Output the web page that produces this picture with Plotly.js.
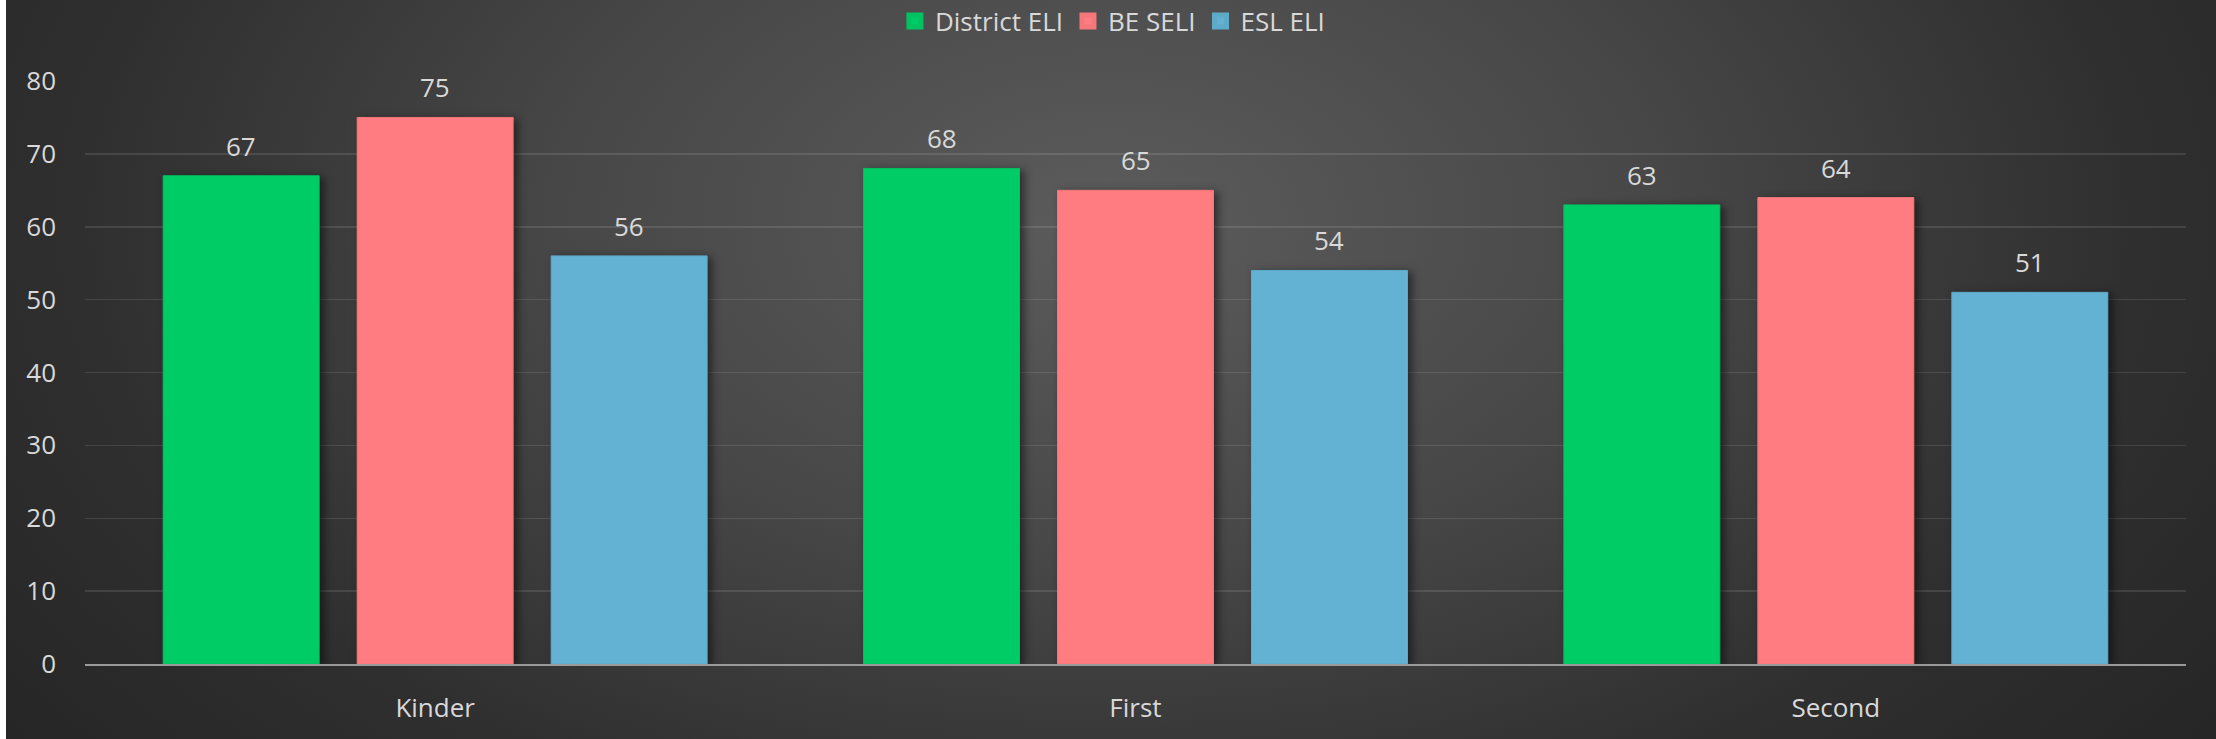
<!DOCTYPE html>
<html>
<head>
<meta charset="utf-8">
<script src="https://cdn.plot.ly/plotly-3.0.1.min.js"></script>
<style>
  html, body { margin: 0; padding: 0; background: #262626; }
  #wrap { position: relative; width: 2216px; height: 739px;
    background: radial-gradient(ellipse 62% 115% at 50% 30%, #5c5c5c 0%, #474747 40%, #2f2f2f 75%, #262626 100%); }
  #chart { position: absolute; left: 0; top: 0; width: 2216px; height: 739px; }
  #edge { position: absolute; left: 0; top: 0; width: 6px; height: 739px; background: #ffffff; z-index: 5; }
  #chart .bars path { filter: drop-shadow(4px 2px 4px rgba(0,0,0,0.5)); }
  #chart .legend .legendpoints path { stroke-width: 5px !important; stroke-linejoin: miter !important; }
</style>
</head>
<body>
<div id="wrap"><div id="chart"></div><div id="edge"></div></div>
<script>
const categories = ["Kinder", "First", "Second"];
const seriesNames = ["District ELI", "BE SELI", "ESL ELI"];
const districtELI = [67, 68, 63];
const beSELI = [75, 65, 64];
const eslELI = [56, 54, 51];
const yTicks = [0, 10, 20, 30, 40, 50, 60, 70, 80];

const seriesValues = [districtELI, beSELI, eslELI];
const colors = ["#00cc66", "#ff7c80", "#63b2d3"];
const lineColors = ["#00c261", "#f5777b", "#5eaac9"];

const W = 2216, H = 739;
const margin = { l: 85, r: 30, t: 81, b: 75, pad: 0 };
const bargap = 0.169;
const bargroupgap = 0.196;
const textColor = "#d9d9d9";
const fontFamily = "'Open Sans', 'Noto Sans', sans-serif";

const traces = seriesNames.map((name, i) => ({
  type: "bar",
  name: name,
  x: categories,
  y: seriesValues[i],
  marker: { color: colors[i], line: { color: lineColors[i], width: 1 } },
  hoverinfo: "none"
}));

// data labels placed through the axis scales (category + value), shifted to each bar slot
const plotW = W - margin.l - margin.r;
const catW = plotW / categories.length;
const slotW = catW * (1 - bargap) / seriesNames.length;
const annotations = [];
seriesNames.forEach((name, i) => {
  categories.forEach((c, j) => {
    annotations.push({
      x: c, y: seriesValues[i][j], xref: "x", yref: "y",
      text: String(seriesValues[i][j]),
      showarrow: false,
      xanchor: "center", yanchor: "middle",
      xshift: (i - (seriesNames.length - 1) / 2) * slotW,
      yshift: 30,
      font: { family: fontFamily, size: 26, color: textColor }
    });
  });
});

const layout = {
  width: W, height: H,
  margin: margin,
  paper_bgcolor: "rgba(0,0,0,0)",
  plot_bgcolor: "rgba(0,0,0,0)",
  barmode: "group",
  bargap: bargap,
  bargroupgap: bargroupgap,
  font: { family: fontFamily, size: 26, color: textColor },
  showlegend: true,
  legend: {
    orientation: "h",
    xref: "container", yref: "container",
    x: 0.502, xanchor: "center",
    y: 1 - 21 / H, yanchor: "middle",
    font: { family: fontFamily, size: 26, color: textColor },
    bgcolor: "rgba(0,0,0,0)",
    traceorder: "normal"
  },
  xaxis: {
    type: "category",
    tickfont: { family: fontFamily, size: 26, color: textColor },
    showgrid: false,
    showline: true, linecolor: "#9a9a9a", linewidth: 2,
    ticks: "",
    ticklabelstandoff: 20,
    zeroline: false,
    automargin: false,
    fixedrange: true
  },
  yaxis: {
    range: [0, 80],
    tickvals: yTicks,
    ticktext: yTicks.map(String),
    tickfont: { family: fontFamily, size: 26, color: textColor },
    showgrid: true, gridcolor: "rgba(255,255,255,0.11)", gridwidth: 1.5,
    showline: false, zeroline: false,
    ticks: "",
    ticklabelstandoff: 28,
    automargin: false,
    fixedrange: true
  },
  annotations: annotations
};

Plotly.newPlot("chart", traces, layout, { displayModeBar: false, staticPlot: true });
</script>
</body>
</html>
